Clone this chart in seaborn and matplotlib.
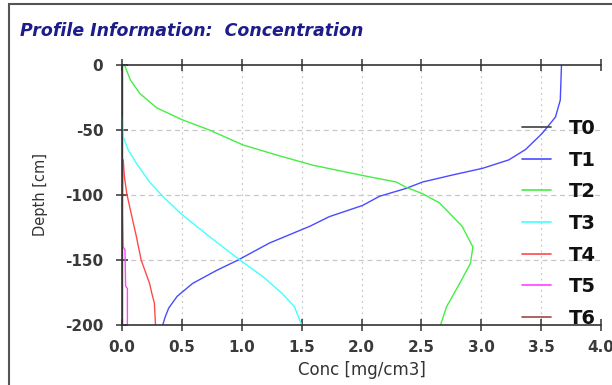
import numpy as np
import pandas as pd
import matplotlib
matplotlib.use("Agg")
import matplotlib.pyplot as plt
import seaborn as sns
from matplotlib.patches import Rectangle

sns.set_theme(style="white")
plt.rcParams['font.family'] = ['DejaVu Sans']

# ---------------- data ----------------
series = ["T0", "T1", "T2", "T3", "T4", "T5", "T6"]

t0_depth = [0, -200]
t0_conc = [0.0, 0.0]

t1_depth = [0, -27, -40, -52.5, -65, -73, -79.5, -84.6, -87, -90, -95, -101, -108,
            -116.7, -124, -137, -150, -158, -168, -178, -187, -194, -200]
t1_conc = [3.67, 3.66, 3.62, 3.51, 3.37, 3.23, 3.01, 2.76, 2.65, 2.51, 2.37, 2.15, 2.01,
           1.73, 1.57, 1.23, 0.97, 0.79, 0.59, 0.46, 0.39, 0.36, 0.34]

t2_depth = [0, -1, -11.5, -22, -33, -42, -50, -61.5, -70, -77, -85, -90, -94, -99,
            -106, -124, -140, -152.5, -168, -186, -200]
t2_conc = [0.02, 0.025, 0.07, 0.15, 0.29, 0.50, 0.73, 1.01, 1.32, 1.59, 2.01, 2.29,
           2.37, 2.51, 2.65, 2.84, 2.93, 2.91, 2.82, 2.71, 2.66]

t3_depth = [-40, -55, -65, -75.6, -90, -101, -115, -132, -149, -163, -176, -186, -200]
t3_conc = [0.0, 0.01, 0.05, 0.12, 0.23, 0.34, 0.50, 0.73, 0.97, 1.18, 1.34, 1.44, 1.50]

t4_depth = [-73, -86, -99, -111.5, -132, -150, -168, -176, -183, -200]
t4_conc = [0.01, 0.02, 0.04, 0.07, 0.12, 0.16, 0.23, 0.25, 0.27, 0.28]

t5_depth = [-104, -140, -142, -170, -172, -200]
t5_conc = [0.0, 0.01, 0.025, 0.03, 0.045, 0.045]

t6_depth = [-73, -86, -104, -140]
t6_conc = [0.006, 0.005, 0.003, 0.002]

colors = ["#404040", "#4a4aff", "#44ee44", "#44ffff", "#ff4a4a", "#ff44ff", "#a04848"]

x_ticks = [0.0, 0.5, 1.0, 1.5, 2.0, 2.5, 3.0, 3.5, 4.0]
x_tick_labels = ["0.0", "0.5", "1.0", "1.5", "2.0", "2.5", "3.0", "3.5", "4.0"]
y_ticks = [0, -50, -100, -150, -200]
y_tick_labels = ["0", "-50", "-100", "-150", "-200"]

# ---------------- build long table ----------------
all_depth = [t0_depth, t1_depth, t2_depth, t3_depth, t4_depth, t5_depth, t6_depth]
all_conc = [t0_conc, t1_conc, t2_conc, t3_conc, t4_conc, t5_conc, t6_conc]
frames = []
for name, d, c in zip(series, all_depth, all_conc):
    frames.append(pd.DataFrame({"series": name, "depth": d, "conc": c}))
df = pd.concat(frames, ignore_index=True)

# ---------------- figure ----------------
fig = plt.figure(figsize=(6.12, 3.85), dpi=100)
fig.patch.set_facecolor("white")
ax = fig.add_axes([122 / 612, 1 - 325 / 385, (601 - 122) / 612, (325 - 65) / 385])

sns.lineplot(data=df, x="conc", y="depth", hue="series", hue_order=series,
             palette=dict(zip(series, colors)), sort=False, estimator=None,
             units="series", linewidth=1.0, ax=ax, legend=True)

ax.set_xlim(0, 4.0)
ax.set_ylim(-200, 0)
ax.set_xticks(x_ticks)
ax.set_xticklabels(x_tick_labels)
ax.set_yticks(y_ticks)
ax.set_yticklabels(y_tick_labels)

# grid: vertical dotted, horizontal dashed (interior only)
for xv in x_ticks[1:-1]:
    ax.axvline(xv, color="#c8c8c8", lw=0.9, ls=(0, (1.5, 3)), zorder=0)
for yv in y_ticks[1:-1]:
    ax.axhline(yv, color="#c8c8c8", lw=0.9, ls=(0, (4, 3)), zorder=0)

for s in ["left", "bottom", "top"]:
    ax.spines[s].set_visible(True)
    ax.spines[s].set_color("#333333")
    ax.spines[s].set_linewidth(1.2)
    ax.spines[s].set_zorder(5)
ax.spines["right"].set_visible(False)

ax.tick_params(axis="x", which="both", direction="inout", length=9, width=1.1,
               color="#333333", top=True, bottom=True, labelsize=11,
               labelcolor="#3a3a3a", pad=6.5)
ax.tick_params(axis="y", which="both", direction="inout", length=9, width=1.1,
               color="#333333", left=True, right=False, labelsize=11,
               labelcolor="#3a3a3a", pad=9)
for lab in ax.get_xticklabels() + ax.get_yticklabels():
    lab.set_fontweight("bold")

ax.set_xlabel("Conc [mg/cm3]", fontsize=12, color="#333333", labelpad=4)
ax.set_ylabel("Depth [cm]", fontsize=10.5, color="#333333", labelpad=12)

handles, labels = ax.get_legend_handles_labels()
ax.get_legend().remove()
leg = fig.legend(handles, labels, loc="upper left",
                 bbox_to_anchor=(522 / 612, 1 - 119 / 385),
                 frameon=False, fontsize=14, handlelength=1.5,
                 handletextpad=0.93, labelspacing=0.65, borderpad=0,
                 borderaxespad=0)
for t in leg.get_texts():
    t.set_fontweight("bold")
    t.set_color("#111111")
for h in leg.get_lines():
    h.set_linewidth(1.2)

fig.text(20 / 612, 1 - 31 / 385, "Profile Information:  Concentration",
         fontsize=12.5, fontweight="bold", fontstyle="italic", color="#1c1c8a",
         va="center", ha="left")

# outer frame (top and left edges visible)
fig.patches.append(Rectangle((9 / 612, -0.05), 1.2, 1 - 4 / 385 + 0.05,
                             transform=fig.transFigure, fill=False,
                             edgecolor="#555555", lw=1.5))

fig.savefig("out.png", dpi=100)
